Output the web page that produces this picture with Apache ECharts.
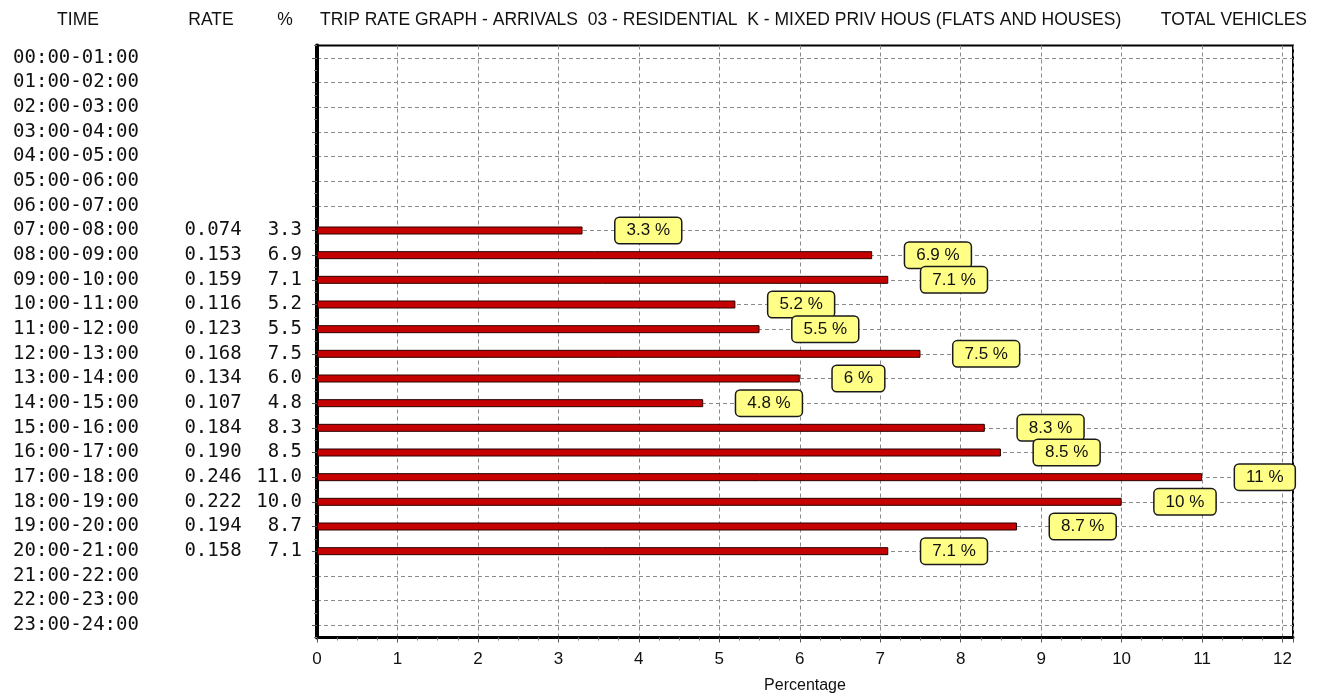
<!DOCTYPE html>
<html><head><meta charset="utf-8">
<script src="https://cdn.jsdelivr.net/npm/echarts@6/dist/echarts.min.js"></script>
<style>html,body{margin:0;padding:0;background:#fff}#c{width:1321px;height:700px}</style>
</head><body><div id="c"></div>
<script>
// ---- data ----
const times = ['00:00-01:00','01:00-02:00','02:00-03:00','03:00-04:00','04:00-05:00','05:00-06:00',
  '06:00-07:00','07:00-08:00','08:00-09:00','09:00-10:00','10:00-11:00','11:00-12:00','12:00-13:00',
  '13:00-14:00','14:00-15:00','15:00-16:00','16:00-17:00','17:00-18:00','18:00-19:00','19:00-20:00',
  '20:00-21:00','21:00-22:00','22:00-23:00','23:00-24:00'];
const rates = [null,null,null,null,null,null,null,0.074,0.153,0.159,0.116,0.123,0.168,0.134,0.107,
  0.184,0.190,0.246,0.222,0.194,0.158,null,null,null];
const pcts = [null,null,null,null,null,null,null,3.3,6.9,7.1,5.2,5.5,7.5,6.0,4.8,8.3,8.5,11.0,10.0,8.7,7.1,null,null,null];
const headerTime = 'TIME';
const headerRate = 'RATE';
const headerPct = '%';
const chartTitle = 'TRIP RATE GRAPH - ARRIVALS  03 - RESIDENTIAL  K - MIXED PRIV HOUS (FLATS AND HOUSES)';
const chartSubject = 'TOTAL VEHICLES';
const xName = 'Percentage';
const xMax = 12.13;

const rowRates = rates.map(v => v == null ? '' : v.toFixed(3));
const rowPcts = pcts.map(v => v == null ? '' : v.toFixed(1));

const mono = '"DejaVu Sans Mono", monospace';
const sans = '"Liberation Sans", Arial, sans-serif';
const gridDash = {color: '#8a8a8a', type: [4, 3], width: 1};

const chart = echarts.init(document.getElementById('c'), null, {renderer: 'canvas'});
chart.setOption({
  animation: false,
  backgroundColor: '#fff',
  grid: {left: 317, top: 45.5, width: 976, height: 592, show: true, borderColor: '#000', borderWidth: 2, backgroundColor: 'transparent'},
  xAxis: {
    type: 'value', min: 0, max: xMax, interval: 1,
    axisLine: {show: true, onZero: false, lineStyle: {color: '#000', width: 3}},
    axisTick: {show: true, length: 5, lineStyle: {color: '#555'}},
    minorTick: {show: true, splitNumber: 4, length: 3, lineStyle: {color: '#777'}},
    axisLabel: {margin: 13, color: '#111', fontFamily: sans, fontSize: 17, showMaxLabel: false,
      formatter: v => (Math.abs(v - Math.round(v)) < 1e-6 ? String(Math.round(v)) : '')},
    splitLine: {show: true, lineStyle: gridDash},
    name: xName, nameLocation: 'middle', nameGap: 40,
    nameTextStyle: {color: '#111', fontFamily: sans, fontSize: 16}
  },
  yAxis: [
    {type: 'category', data: times, inverse: true, position: 'left',
     axisLine: {show: true, onZero: false, lineStyle: {color: '#000', width: 4}},
     axisTick: {show: true, alignWithLabel: true, interval: 0, length: 5, lineStyle: {color: '#555'}},
     axisLabel: {interval: 0, margin: 241, align: 'center', color: '#111', fontFamily: mono, fontSize: 19},
     splitLine: {show: false}},
    {type: 'category', data: rowRates, inverse: true, position: 'left',
     axisLine: {show: false, onZero: false}, axisTick: {show: false},
     axisLabel: {interval: 0, margin: 104, align: 'center', color: '#111', fontFamily: mono, fontSize: 19},
     splitLine: {show: false}},
    {type: 'category', data: rowPcts, inverse: true, position: 'left',
     axisLine: {show: false, onZero: false}, axisTick: {show: false},
     axisLabel: {interval: 0, margin: 15, align: 'right', color: '#111', fontFamily: mono, fontSize: 19},
     splitLine: {show: false}},
    {type: 'value', min: -0.5, max: 23.5, interval: 1, inverse: true, position: 'left',
     axisLine: {show: false, onZero: false}, axisLabel: {show: false},
     axisTick: {show: true, length: 3, lineStyle: {color: '#777'}},
     splitLine: {show: false},
     minorTick: {show: false, splitNumber: 2},
     minorSplitLine: {show: true, lineStyle: gridDash}}
  ],
  series: [{
    type: 'bar', xAxisIndex: 0, yAxisIndex: 0, data: pcts, barWidth: 8,
    itemStyle: {color: '#c40000', borderColor: '#2a0000', borderWidth: 1},
    label: {show: true, position: 'right', distance: 33,
      formatter: p => p.value + ' %',
      color: '#111', fontFamily: sans, fontSize: 17, lineHeight: 18,
      backgroundColor: '#ffff85', borderColor: '#1a1a1a', borderWidth: 1.5, borderRadius: 4,
      padding: [4, 11, 3, 11]}
  }],
  graphic: [
    {type: 'text', x: 78, y: 20, style: {text: headerTime, font: '17.5px ' + sans, fill: '#111', textAlign: 'center', textVerticalAlign: 'middle'}},
    {type: 'text', x: 211, y: 20, style: {text: headerRate, font: '17.5px ' + sans, fill: '#111', textAlign: 'center', textVerticalAlign: 'middle'}},
    {type: 'text', x: 285, y: 20, style: {text: headerPct, font: '17.5px ' + sans, fill: '#111', textAlign: 'center', textVerticalAlign: 'middle'}},
    {type: 'text', x: 320, y: 20, style: {text: chartTitle, font: '17.5px ' + sans, fill: '#111', textAlign: 'left', textVerticalAlign: 'middle'}},
    {type: 'text', x: 1307, y: 20, style: {text: chartSubject, font: '17.5px ' + sans, fill: '#111', textAlign: 'right', textVerticalAlign: 'middle'}}
  ]
});
</script></body></html>
